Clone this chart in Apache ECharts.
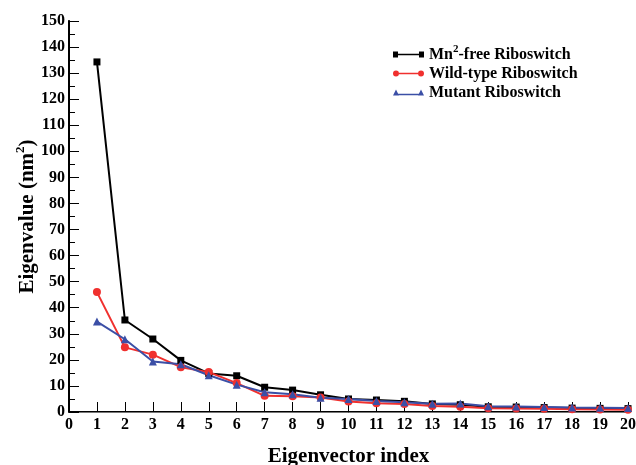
<!DOCTYPE html>
<html>
<head>
<meta charset="utf-8">
<script src="https://cdn.jsdelivr.net/npm/echarts@6/dist/echarts.min.js"></script>
<style>
  html, body { margin: 0; padding: 0; background: #fff; }
  #chart { width: 636px; height: 465px; }
</style>
</head>
<body>
<div id="chart"></div>
<script>
// Eigenvector indices and eigenvalues (nm^2) for the three riboswitch states
const eigIndex = [1, 2, 3, 4, 5, 6, 7, 8, 9, 10, 11, 12, 13, 14, 15, 16, 17, 18, 19, 20];
const mnFree   = [134.3, 35.3, 28, 19.8, 14.8, 13.9, 9.5, 8.4, 6.6, 5.0, 4.6, 4.1, 3.1, 2.8, 2.0, 1.9, 1.7, 1.5, 1.4, 1.3];
const wildType = [46, 24.8, 22, 17.2, 15.3, 11.1, 6.2, 6.0, 5.6, 4.0, 3.4, 3.1, 2.3, 2.0, 1.4, 1.3, 1.2, 1.1, 1.0, 0.9];
const mutant   = [34.7, 27.9, 19.4, 18.3, 14.1, 10.5, 7.6, 6.8, 5.5, 5.0, 4.2, 3.7, 3.2, 3.3, 2.2, 2.1, 1.9, 1.7, 1.6, 1.5];
const seriesNames = ['Mn2-free Riboswitch', 'Wild-type Riboswitch', 'Mutant Riboswitch'];
const xTicks = { min: 0, max: 20, step: 1 };
const yTicks = { min: 0, max: 150, step: 10 };

const FONT = '"Liberation Serif", "DejaVu Serif", serif';
const pairs = vals => eigIndex.map((x, i) => [x, vals[i]]);

// Legend keys: a short line with a marker at each end (31 x 6 box)
const KEY_SQUARE   = 'path://M0,0.5h5v5h-5z M5,2.3h21v1.4h-21z M26,0.5h5v5h-5z';
const KEY_CIRCLE   = 'path://M0,3a3,3 0 1,0 6,0a3,3 0 1,0 -6,0z M6,2.3h19v1.4h-19z M25,3a3,3 0 1,0 6,0a3,3 0 1,0 -6,0z';
const KEY_TRIANGLE = 'path://M0,6L3,0L6,6z M5,4.3h21v1.4h-21z M25,6L28,0L31,6z';

const chart = echarts.init(document.getElementById('chart'), null, { renderer: 'canvas' });

const lineSeries = (name, vals, color, symbol, size) => ({
  name, type: 'line', data: pairs(vals),
  symbol, symbolSize: size,
  lineStyle: { color, width: 2 },
  itemStyle: { color },
  emphasis: { disabled: true },
  animation: false
});

chart.setOption({
  animation: false,
  grid: { left: 69, right: 8, top: 21, bottom: 53, containLabel: false, outerBoundsMode: 'none' },
  legend: {
    orient: 'vertical',
    left: 388, top: 39,
    itemWidth: 31, itemHeight: 6, itemGap: 3,
    symbolKeepAspect: false,
    textStyle: {
      fontFamily: FONT, fontWeight: 'bold', fontSize: 16, color: '#000',
      rich: {
        sup: { fontFamily: FONT, fontWeight: 'bold', fontSize: 11, color: '#000', verticalAlign: 'bottom', padding: [0, 0, 10, 0] }
      }
    },
    formatter: name => name.replace('Mn2', 'Mn{sup|2}'),
    data: [
      { name: seriesNames[0], icon: KEY_SQUARE },
      { name: seriesNames[1], icon: KEY_CIRCLE },
      { name: seriesNames[2], icon: KEY_TRIANGLE }
    ]
  },
  xAxis: [{
    type: 'value', min: xTicks.min, max: xTicks.max, interval: xTicks.step,
    name: 'Eigenvector index', nameLocation: 'middle', nameGap: 34,
    nameTextStyle: { fontFamily: FONT, fontWeight: 'bold', fontSize: 21, color: '#000' },
    axisLine: { lineStyle: { color: '#000', width: 2 } },
    axisTick: { inside: true, length: 10, lineStyle: { color: '#000', width: 1 } },
    axisLabel: { fontFamily: FONT, fontWeight: 'bold', fontSize: 16, color: '#000', margin: 5 },
    splitLine: { show: false }
  }, {
    type: 'value', position: 'top', min: xTicks.min, max: xTicks.max, interval: xTicks.step,
    axisLine: { show: true, lineStyle: { color: '#777', width: 1 } },
    axisTick: { show: false }, axisLabel: { show: false }, splitLine: { show: false }
  }],
  yAxis: [{
    type: 'value', min: yTicks.min, max: yTicks.max, interval: yTicks.step,
    name: 'Eigenvalue (nm{sup|2})', nameLocation: 'middle', nameGap: 28,
    nameMoveOverlap: false,
    nameTextStyle: {
      fontFamily: FONT, fontWeight: 'bold', fontSize: 21, color: '#000',
      rich: {
        sup: { fontFamily: FONT, fontWeight: 'bold', fontSize: 13, color: '#000', verticalAlign: 'bottom', padding: [0, 0, 14, 0] }
      }
    },
    axisLine: { show: true, lineStyle: { color: '#000', width: 2 } },
    axisTick: { inside: true, length: 10, lineStyle: { color: '#000', width: 1 } },
    minorTick: { show: true, splitNumber: 2, length: 6, lineStyle: { color: '#000', width: 1 } },
    axisLabel: { fontFamily: FONT, fontWeight: 'bold', fontSize: 16, color: '#000', margin: 4 },
    splitLine: { show: false }
  }, {
    type: 'value', position: 'right', min: yTicks.min, max: yTicks.max, interval: yTicks.step,
    axisLine: { show: true, lineStyle: { color: '#000', width: 1.5 } },
    axisTick: { show: false }, axisLabel: { show: false }, splitLine: { show: false }
  }],
  series: [
    lineSeries(seriesNames[0], mnFree, '#000000', 'rect', 7),
    lineSeries(seriesNames[1], wildType, '#f0302e', 'circle', 8),
    lineSeries(seriesNames[2], mutant, '#3b4fa6', 'triangle', 8)
  ]
});
</script>
</body>
</html>
